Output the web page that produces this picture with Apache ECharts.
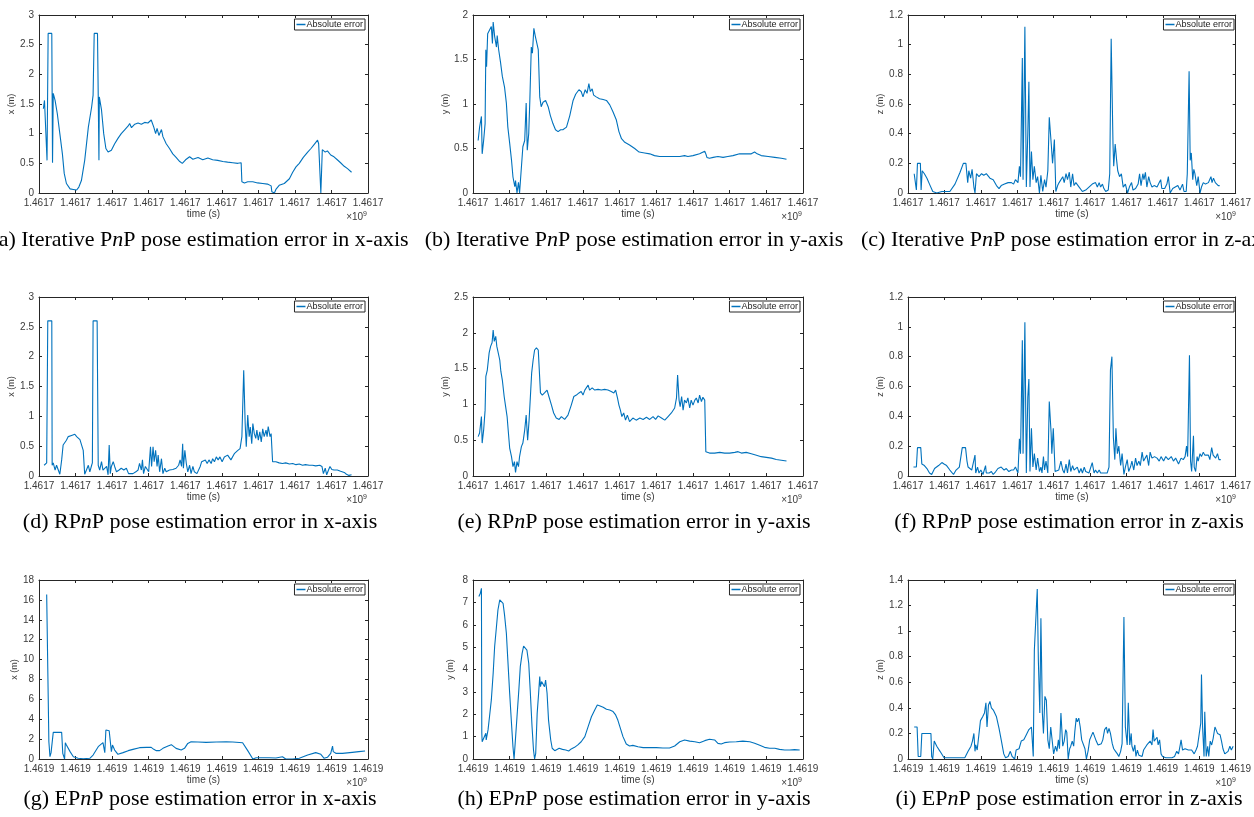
<!DOCTYPE html>
<html>
<head>
<meta charset="utf-8">
<script src="https://cdn.jsdelivr.net/npm/echarts@6/dist/echarts.min.js"></script>
<style>
  html, body { margin: 0; padding: 0; background: #fff; }
  #chart { width: 1254px; height: 817px; }
</style>
</head>
<body>
<div id="chart"></div>
<script>
// time is in x-tick units (10 ticks, 0..9), value is absolute error in metres
const itPnpX = [[0.12,1.42],[0.15,1.56],[0.18,1.59],[0.22,0.55],[0.25,2.69],[0.35,2.69],[0.37,0.51],[0.39,1.68],[0.44,1.56],[0.5,1.34],[0.57,1.0],[0.64,0.66],[0.69,0.33],[0.75,0.16],[0.85,0.07],[0.94,0.06],[1.03,0.05],[1.09,0.1],[1.16,0.21],[1.25,0.55],[1.35,1.11],[1.44,1.45],[1.48,1.65],[1.51,2.69],[1.6,2.69],[1.62,1.65],[1.64,0.55],[1.65,1.62],[1.71,1.4],[1.77,1.0],[1.83,0.75],[1.89,0.69],[1.98,0.72],[2.07,0.83],[2.16,0.92],[2.25,1.0],[2.35,1.07],[2.44,1.13],[2.48,1.17],[2.53,1.1],[2.62,1.16],[2.71,1.18],[2.8,1.16],[2.89,1.19],[2.98,1.18],[3.07,1.23],[3.14,1.11],[3.19,1.0],[3.23,1.09],[3.28,0.97],[3.35,1.07],[3.39,0.95],[3.48,0.83],[3.57,0.75],[3.66,0.66],[3.75,0.6],[3.85,0.53],[3.92,0.5],[4.01,0.56],[4.12,0.61],[4.21,0.57],[4.35,0.6],[4.48,0.56],[4.62,0.59],[4.75,0.56],[4.89,0.55],[5.03,0.53],[5.16,0.52],[5.3,0.51],[5.44,0.5],[5.53,0.51],[5.55,0.19],[5.62,0.17],[5.71,0.19],[5.85,0.19],[5.98,0.17],[6.12,0.16],[6.25,0.15],[6.35,0.12],[6.37,0.02],[6.44,0],[6.48,0.06],[6.57,0.13],[6.71,0.16],[6.85,0.24],[6.94,0.35],[7.03,0.44],[7.12,0.5],[7.23,0.6],[7.35,0.69],[7.44,0.75],[7.53,0.82],[7.62,0.89],[7.65,0.83],[7.71,0],[7.75,0.73],[7.83,0.69],[7.89,0.71],[7.98,0.64],[8.07,0.61],[8.16,0.56],[8.25,0.51],[8.35,0.45],[8.44,0.41],[8.55,0.35]]

const itPnpY = [[0.14,0.59],[0.18,0.74],[0.23,0.86],[0.25,0.44],[0.29,0.59],[0.33,0.78],[0.35,1.61],[0.37,1.42],[0.4,1.79],[0.45,1.81],[0.5,1.87],[0.53,1.68],[0.55,1.92],[0.59,1.76],[0.64,1.64],[0.66,1.77],[0.7,1.61],[0.75,1.47],[0.8,1.31],[0.86,1.19],[0.91,1.01],[0.95,0.74],[1.0,0.56],[1.05,0.37],[1.09,0.18],[1.14,0.07],[1.16,0.14],[1.2,0],[1.24,0.12],[1.27,0],[1.32,0.29],[1.36,0.52],[1.41,0.59],[1.45,1.01],[1.48,0.48],[1.52,0.67],[1.55,1.04],[1.59,1.64],[1.62,1.57],[1.66,1.85],[1.7,1.76],[1.75,1.76],[1.78,1.61],[1.82,1.08],[1.86,0.97],[1.91,1.02],[1.98,1.04],[2.05,0.97],[2.11,0.87],[2.18,0.78],[2.25,0.71],[2.32,0.69],[2.39,0.71],[2.45,0.71],[2.55,0.74],[2.64,0.87],[2.73,1.04],[2.8,1.11],[2.89,1.16],[2.95,1.14],[3.0,1.08],[3.06,1.16],[3.11,1.12],[3.16,1.23],[3.2,1.14],[3.25,1.17],[3.29,1.1],[3.36,1.08],[3.45,1.06],[3.55,1.05],[3.64,1.04],[3.73,0.99],[3.82,0.91],[3.91,0.82],[3.98,0.69],[4.05,0.61],[4.14,0.57],[4.27,0.54],[4.41,0.5],[4.53,0.46],[4.68,0.45],[4.82,0.44],[4.95,0.42],[5.09,0.41],[5.27,0.41],[5.45,0.41],[5.64,0.41],[5.77,0.42],[5.86,0.41],[6.0,0.42],[6.18,0.44],[6.32,0.47],[6.35,0.44],[6.38,0.4],[6.45,0.39],[6.55,0.4],[6.68,0.41],[6.82,0.4],[6.95,0.41],[7.09,0.42],[7.27,0.44],[7.45,0.44],[7.59,0.44],[7.68,0.46],[7.75,0.44],[7.86,0.42],[8.05,0.41],[8.23,0.4],[8.41,0.39],[8.55,0.38]]

const itPnpZ = [[0.17,0.13],[0.2,0.13],[0.23,0.02],[0.26,0.2],[0.34,0.2],[0.36,0.02],[0.39,0.15],[0.45,0.13],[0.52,0.1],[0.59,0.06],[0.68,0.01],[0.79,0],[0.93,0.01],[1.02,0.01],[1.15,0.01],[1.29,0.06],[1.43,0.14],[1.52,0.2],[1.59,0.2],[1.64,0.07],[1.67,0.15],[1.72,0.1],[1.76,0.16],[1.81,0.04],[1.84,0],[1.88,0.13],[1.95,0.11],[2.02,0.13],[2.08,0.12],[2.15,0.13],[2.25,0.1],[2.34,0.09],[2.43,0.05],[2.5,0.03],[2.56,0.05],[2.65,0.06],[2.75,0.07],[2.84,0.07],[2.9,0.06],[2.95,0.09],[3.02,0.07],[3.06,0.18],[3.09,0.11],[3.14,0.91],[3.16,0.09],[3.21,1.12],[3.25,0.04],[3.29,0.4],[3.32,0.75],[3.35,0.04],[3.39,0.28],[3.43,0.09],[3.47,0.18],[3.52,0.07],[3.56,0.11],[3.61,0],[3.65,0.12],[3.7,0.01],[3.75,0.09],[3.79,0.04],[3.84,0.15],[3.88,0.51],[3.94,0.31],[3.97,0.2],[4.02,0.36],[4.06,0.01],[4.11,0.05],[4.15,0.07],[4.2,0.06],[4.25,0.11],[4.29,0.07],[4.34,0.13],[4.38,0.09],[4.43,0.14],[4.47,0.04],[4.52,0.13],[4.56,0.05],[4.61,0.07],[4.7,0.04],[4.79,0.01],[4.88,0.02],[4.97,0.04],[5.06,0.06],[5.11,0.05],[5.15,0.07],[5.2,0.04],[5.25,0.07],[5.29,0.04],[5.34,0.06],[5.38,0.03],[5.43,0.01],[5.5,0.02],[5.54,0.13],[5.58,1.04],[5.63,0.33],[5.65,0.18],[5.69,0.33],[5.73,0.22],[5.76,0.15],[5.81,0.11],[5.86,0.13],[5.91,0.04],[5.97,0.06],[6.03,0],[6.08,0.04],[6.14,0.07],[6.18,0.02],[6.25,0.03],[6.32,0.06],[6.36,0.13],[6.4,0.05],[6.45,0.13],[6.48,0.09],[6.52,0.14],[6.56,0.04],[6.61,0.11],[6.65,0.07],[6.7,0.04],[6.76,0.05],[6.84,0.04],[6.9,0.07],[6.94,0.09],[6.97,0.03],[7.05,0.03],[7.11,0.06],[7.15,0.11],[7.2,0],[7.27,0.03],[7.34,0.04],[7.41,0.05],[7.47,0.02],[7.54,0.06],[7.58,0.01],[7.64,0.01],[7.67,0.13],[7.72,0.82],[7.75,0.22],[7.78,0.27],[7.82,0.09],[7.85,0.16],[7.88,0.13],[7.93,0.05],[7.97,0.11],[8.02,0],[8.06,0.04],[8.11,0.07],[8.17,0.06],[8.25,0.07],[8.32,0.11],[8.35,0.07],[8.39,0.1],[8.44,0.07],[8.52,0.05],[8.56,0.05]]

const rpnpX = [[0.14,0.18],[0.21,0.22],[0.24,2.6],[0.35,2.6],[0.36,0.18],[0.39,0.22],[0.44,0.1],[0.48,0.18],[0.53,0.16],[0.57,0.03],[0.62,0.27],[0.66,0.52],[0.71,0.54],[0.75,0.6],[0.8,0.66],[0.85,0.64],[0.89,0.68],[0.94,0.71],[0.98,0.7],[1.03,0.66],[1.07,0.66],[1.12,0.61],[1.16,0.6],[1.21,0.43],[1.25,0.03],[1.3,0.02],[1.35,0.18],[1.39,0.07],[1.44,0.18],[1.46,0.22],[1.48,2.6],[1.59,2.6],[1.62,0.18],[1.66,0.1],[1.71,0.24],[1.75,0.1],[1.8,0.07],[1.85,0.16],[1.89,0.02],[1.92,0.52],[1.95,0.04],[1.98,0.16],[2.03,0.24],[2.07,0.16],[2.12,0.07],[2.19,0.1],[2.25,0.13],[2.32,0.1],[2.39,0.13],[2.45,0.04],[2.5,0.02],[2.57,0.04],[2.65,0.07],[2.71,0.1],[2.75,0.21],[2.8,0.1],[2.83,0.27],[2.86,0.04],[2.91,0.16],[2.95,0.18],[3.0,0.07],[3.05,0.49],[3.08,0.16],[3.12,0.49],[3.15,0.24],[3.19,0.43],[3.23,0.16],[3.26,0.35],[3.3,0.07],[3.35,0.29],[3.39,0.04],[3.44,0.13],[3.48,0.07],[3.57,0.1],[3.66,0.11],[3.75,0.13],[3.82,0.18],[3.86,0.27],[3.9,0.16],[3.93,0.54],[3.95,0.13],[3.99,0.43],[4.03,0.21],[4.07,0.07],[4.12,0.18],[4.16,0.04],[4.21,0.16],[4.25,0.07],[4.32,0.04],[4.37,0.02],[4.41,0.16],[4.45,0.24],[4.5,0.21],[4.55,0.27],[4.6,0.21],[4.65,0.27],[4.71,0.21],[4.75,0.29],[4.8,0.24],[4.85,0.32],[4.9,0.27],[4.95,0.32],[5.01,0.24],[5.07,0.32],[5.16,0.35],[5.25,0.27],[5.35,0.38],[5.44,0.43],[5.5,0.46],[5.55,0.66],[5.6,1.77],[5.64,0.88],[5.67,0.49],[5.71,1.02],[5.75,0.66],[5.78,0.82],[5.82,0.54],[5.85,0.88],[5.89,0.71],[5.93,0.63],[5.96,0.77],[6.0,0.6],[6.04,0.74],[6.08,0.57],[6.12,0.79],[6.16,0.66],[6.21,0.77],[6.24,0.66],[6.27,0.83],[6.32,0.66],[6.35,0.71],[6.39,0.24],[6.48,0.24],[6.57,0.22],[6.66,0.21],[6.75,0.22],[6.85,0.2],[6.94,0.21],[7.03,0.19],[7.12,0.2],[7.21,0.18],[7.29,0.19],[7.39,0.18],[7.48,0.18],[7.57,0.17],[7.68,0.18],[7.74,0.16],[7.78,0.04],[7.83,0.13],[7.87,0.02],[7.92,0.1],[7.96,0.16],[8.01,0.11],[8.07,0.1],[8.16,0.1],[8.25,0.08],[8.35,0.06],[8.41,0.03],[8.48,0.01],[8.55,0.02]]

const rpnpY = [[0.14,0.55],[0.18,0.6],[0.23,0.83],[0.25,0.46],[0.29,0.64],[0.33,0.92],[0.35,1.39],[0.39,1.48],[0.44,1.72],[0.48,1.81],[0.52,1.86],[0.55,2.04],[0.58,1.88],[0.62,1.95],[0.65,1.81],[0.69,1.83],[0.73,1.62],[0.76,1.46],[0.8,1.34],[0.85,1.11],[0.89,0.97],[0.93,0.83],[0.96,0.64],[1.0,0.39],[1.05,0.27],[1.09,0.13],[1.13,0.2],[1.16,0.05],[1.2,0.2],[1.24,0.13],[1.27,0.27],[1.32,0.41],[1.36,0.46],[1.41,0.64],[1.45,0.85],[1.49,0.5],[1.53,0.78],[1.56,1.06],[1.6,1.44],[1.64,1.62],[1.68,1.76],[1.73,1.79],[1.78,1.76],[1.84,1.16],[1.89,1.13],[1.95,1.16],[2.02,1.2],[2.07,1.11],[2.14,0.99],[2.2,0.88],[2.27,0.81],[2.35,0.79],[2.41,0.83],[2.5,0.79],[2.59,0.85],[2.68,0.99],[2.75,1.11],[2.82,1.13],[2.89,1.16],[2.95,1.18],[3.0,1.13],[3.05,1.2],[3.09,1.18],[3.14,1.27],[3.18,1.2],[3.25,1.23],[3.32,1.2],[3.41,1.21],[3.5,1.2],[3.59,1.21],[3.68,1.2],[3.77,1.18],[3.84,1.16],[3.89,1.2],[3.94,1.09],[3.98,0.99],[4.02,0.92],[4.06,0.83],[4.11,0.88],[4.16,0.78],[4.21,0.85],[4.27,0.76],[4.36,0.81],[4.45,0.78],[4.55,0.81],[4.64,0.79],[4.73,0.82],[4.82,0.79],[4.91,0.83],[4.98,0.79],[5.05,0.84],[5.14,0.81],[5.23,0.78],[5.32,0.83],[5.41,0.88],[5.5,0.95],[5.55,1.09],[5.58,1.41],[5.62,1.06],[5.65,0.97],[5.69,1.11],[5.73,0.92],[5.77,1.06],[5.82,1.02],[5.86,1.09],[5.91,0.95],[5.95,1.06],[6.0,0.99],[6.05,1.06],[6.09,1.09],[6.14,1.02],[6.18,1.13],[6.23,1.04],[6.27,1.1],[6.32,1.06],[6.35,0.34],[6.38,0.34],[6.45,0.32],[6.59,0.32],[6.73,0.33],[6.86,0.32],[7.0,0.32],[7.14,0.33],[7.23,0.34],[7.32,0.32],[7.45,0.33],[7.59,0.31],[7.73,0.29],[7.86,0.27],[8.0,0.26],[8.14,0.25],[8.27,0.23],[8.41,0.22],[8.55,0.21]]

const rpnpZ = [[0.15,0.06],[0.23,0.06],[0.26,0.19],[0.35,0.19],[0.38,0.08],[0.45,0.07],[0.52,0.05],[0.59,0.02],[0.65,0.01],[0.73,0.05],[0.84,0.07],[0.93,0.09],[0.99,0.08],[1.06,0.07],[1.15,0.04],[1.25,0.01],[1.32,0.04],[1.41,0.06],[1.45,0.07],[1.49,0.19],[1.58,0.19],[1.62,0.1],[1.65,0.06],[1.7,0.05],[1.75,0.04],[1.79,0.03],[1.84,0.14],[1.86,0.02],[1.91,0.06],[1.95,0.02],[2.0,0.04],[2.06,0.01],[2.13,0.07],[2.15,0.02],[2.23,0.02],[2.29,0.03],[2.34,0.01],[2.41,0.03],[2.47,0.05],[2.56,0.06],[2.64,0.04],[2.7,0.05],[2.77,0.03],[2.84,0.04],[2.9,0.04],[2.95,0.06],[3.02,0.02],[3.06,0.25],[3.09,0.15],[3.14,0.91],[3.16,0.15],[3.21,1.03],[3.25,0.02],[3.29,0.53],[3.32,0.65],[3.35,0.03],[3.39,0.32],[3.43,0.06],[3.47,0.15],[3.52,0.04],[3.56,0.12],[3.61,0.03],[3.65,0.06],[3.68,0.02],[3.72,0.13],[3.75,0.04],[3.79,0.1],[3.84,0.02],[3.88,0.5],[3.93,0.29],[3.95,0.15],[3.99,0.32],[4.04,0.03],[4.09,0.02],[4.14,0.04],[4.2,0.1],[4.25,0.04],[4.29,0.02],[4.34,0.08],[4.38,0.02],[4.43,0.11],[4.47,0.03],[4.52,0.07],[4.56,0.04],[4.61,0.03],[4.65,0.06],[4.7,0.02],[4.75,0.05],[4.79,0.02],[4.84,0.06],[4.88,0.03],[4.93,0.04],[4.97,0.02],[5.02,0.03],[5.06,0.09],[5.11,0.02],[5.15,0.04],[5.2,0.02],[5.25,0.04],[5.29,0.02],[5.34,0.03],[5.38,0.02],[5.43,0.02],[5.47,0.02],[5.52,0.06],[5.56,0.71],[5.6,0.8],[5.64,0.26],[5.68,0.11],[5.71,0.32],[5.75,0.15],[5.79,0.2],[5.84,0.07],[5.88,0.15],[5.93,0.01],[5.97,0.06],[6.02,0.11],[6.06,0.03],[6.11,0.06],[6.15,0.1],[6.2,0.04],[6.25,0.12],[6.29,0.07],[6.34,0.1],[6.38,0.07],[6.43,0.16],[6.47,0.1],[6.52,0.11],[6.56,0.14],[6.61,0.07],[6.65,0.16],[6.7,0.12],[6.77,0.13],[6.84,0.12],[6.9,0.1],[6.95,0.13],[7.02,0.1],[7.08,0.13],[7.15,0.11],[7.23,0.13],[7.29,0.1],[7.35,0.12],[7.43,0.08],[7.5,0.12],[7.56,0.11],[7.61,0.13],[7.65,0.2],[7.68,0.13],[7.73,0.81],[7.76,0.1],[7.79,0.03],[7.84,0.27],[7.86,0.06],[7.9,0.03],[7.94,0.13],[7.97,0.1],[8.02,0.15],[8.06,0.13],[8.11,0.16],[8.15,0.14],[8.2,0.13],[8.25,0.14],[8.29,0.11],[8.34,0.19],[8.38,0.14],[8.41,0.15],[8.45,0.12],[8.5,0.15],[8.54,0.11],[8.59,0.11]]

const epnpX = [[0.21,16.55],[0.25,16.55],[0.27,1.74],[0.3,0.23],[0.33,0.64],[0.36,0.64],[0.39,2.68],[0.62,2.68],[0.65,0.57],[0.68,0.4],[0.7,0],[0.72,1.64],[0.75,1.4],[0.85,0.74],[0.94,0.23],[1.07,0.07],[1.21,0.03],[1.39,0.07],[1.48,0.4],[1.62,1.24],[1.75,1.64],[1.8,0.64],[1.83,2.91],[1.86,2.84],[1.92,2.84],[1.96,2.84],[1.98,0.74],[2.01,1.4],[2.07,0.9],[2.16,0.47],[2.3,0.64],[2.44,0.84],[2.57,0.97],[2.75,1.14],[2.94,1.17],[3.07,1.17],[3.14,0.97],[3.21,0.84],[3.3,0.84],[3.39,1.07],[3.53,1.3],[3.62,1.44],[3.66,1.3],[3.75,1.07],[3.89,0.9],[3.98,1.07],[4.07,1.57],[4.16,1.74],[4.35,1.71],[4.57,1.67],[4.85,1.71],[5.12,1.74],[5.3,1.71],[5.57,1.64],[5.71,0.84],[5.85,0],[5.94,0.13],[6.12,0.13],[6.3,0.13],[6.48,0.1],[6.66,0.23],[6.75,0],[6.94,0],[7.12,0.07],[7.35,0.4],[7.57,0.64],[7.71,0.47],[7.8,0.07],[7.89,0.17],[7.94,0.23],[7.98,0.57],[8.03,1.3],[8.05,0.74],[8.12,0.57],[8.3,0.57],[8.57,0.67],[8.75,0.74],[8.92,0.8]]

const epnpY = [[0.16,7.26],[0.2,7.41],[0.23,7.63],[0.24,1.15],[0.25,0.77],[0.3,0.77],[0.35,1.15],[0.36,0.85],[0.41,1.3],[0.45,1.89],[0.5,2.64],[0.55,3.83],[0.59,5.02],[0.64,5.92],[0.68,6.66],[0.73,7.11],[0.77,7.14],[0.82,6.96],[0.86,6.44],[0.91,5.62],[0.95,4.43],[1.0,2.94],[1.05,1.59],[1.09,0.55],[1.12,0],[1.15,0.7],[1.2,1.89],[1.25,3.08],[1.29,4.13],[1.34,4.72],[1.38,5.05],[1.43,5.1],[1.47,4.87],[1.52,4.28],[1.56,3.08],[1.61,1.45],[1.65,0.4],[1.68,0],[1.71,0.25],[1.75,2.04],[1.79,2.94],[1.82,3.68],[1.84,3.23],[1.87,3.46],[1.91,3.38],[1.95,3.23],[1.98,3.53],[2.02,2.94],[2.06,1.74],[2.12,0.85],[2.16,0.48],[2.23,0.37],[2.27,0.4],[2.35,0.48],[2.44,0.43],[2.53,0.4],[2.61,0.36],[2.68,0.45],[2.77,0.52],[2.86,0.63],[2.95,0.77],[3.05,1.0],[3.14,1.45],[3.23,1.89],[3.32,2.19],[3.39,2.41],[3.45,2.38],[3.55,2.31],[3.64,2.22],[3.73,2.19],[3.82,2.12],[3.89,1.97],[3.95,1.74],[4.02,1.37],[4.09,1.0],[4.18,0.67],[4.27,0.58],[4.36,0.61],[4.5,0.55],[4.64,0.51],[4.82,0.51],[5.0,0.51],[5.18,0.49],[5.36,0.49],[5.5,0.58],[5.64,0.77],[5.77,0.85],[5.91,0.8],[6.05,0.77],[6.18,0.73],[6.32,0.82],[6.45,0.88],[6.59,0.85],[6.68,0.7],[6.77,0.67],[6.86,0.73],[7.0,0.76],[7.18,0.77],[7.36,0.8],[7.55,0.77],[7.68,0.7],[7.82,0.61],[7.95,0.52],[8.09,0.48],[8.23,0.48],[8.36,0.43],[8.5,0.4],[8.64,0.4],[8.77,0.42],[8.91,0.4]]

const epnpZ = [[0.17,0.25],[0.25,0.25],[0.28,0.02],[0.35,0.02],[0.38,0.2],[0.63,0.2],[0.65,0.02],[0.68,0],[0.72,0.14],[0.79,0.1],[0.88,0.06],[0.99,0.01],[1.11,0.01],[1.29,0.01],[1.47,0.01],[1.56,0.01],[1.65,0.06],[1.73,0.1],[1.77,0.14],[1.81,0.2],[1.84,0.06],[1.86,0.11],[1.9,0.07],[1.95,0.06],[1.99,0.3],[2.05,0.33],[2.1,0.36],[2.14,0.44],[2.17,0.25],[2.21,0.42],[2.25,0.45],[2.29,0.4],[2.35,0.38],[2.43,0.33],[2.5,0.24],[2.56,0.15],[2.63,0.04],[2.68,0.01],[2.75,0.02],[2.81,0.06],[2.86,0.02],[2.93,0],[2.97,0.07],[3.05,0.08],[3.11,0.14],[3.18,0.15],[3.25,0.19],[3.32,0.23],[3.39,0.25],[3.44,0.02],[3.47,0.85],[3.51,0.85],[3.55,1.33],[3.58,0.77],[3.62,0.36],[3.65,1.1],[3.69,0.36],[3.72,0.2],[3.76,0.49],[3.8,0.46],[3.84,0.15],[3.88,0.08],[3.92,0.25],[3.95,0.17],[4.0,0.04],[4.05,0.1],[4.09,0.06],[4.13,0.15],[4.16,0.08],[4.2,0.36],[4.23,0.37],[4.25,0.1],[4.29,0.14],[4.33,0.23],[4.36,0.21],[4.4,0],[4.44,0.08],[4.47,0.1],[4.51,0.14],[4.55,0.1],[4.58,0.21],[4.62,0.32],[4.65,0.29],[4.69,0.32],[4.73,0.25],[4.77,0.15],[4.82,0.14],[4.86,0.08],[4.9,0],[4.95,0.07],[4.99,0.15],[5.04,0.16],[5.08,0.21],[5.13,0.2],[5.17,0.14],[5.22,0.11],[5.26,0.1],[5.31,0.12],[5.35,0.15],[5.4,0.23],[5.45,0.25],[5.48,0.2],[5.52,0.24],[5.56,0.2],[5.61,0.12],[5.65,0.08],[5.7,0.06],[5.75,0.04],[5.79,0.02],[5.84,0.06],[5.88,0.12],[5.93,1.11],[5.97,0.25],[6.02,0.11],[6.05,0.44],[6.09,0.11],[6.13,0.2],[6.15,0.1],[6.19,0.06],[6.23,0.11],[6.26,0.02],[6.3,0.07],[6.34,0.03],[6.38,0.04],[6.43,0.02],[6.47,0.07],[6.52,0.06],[6.56,0.11],[6.61,0.1],[6.65,0.14],[6.7,0.11],[6.73,0.23],[6.76,0.14],[6.8,0.15],[6.84,0.17],[6.87,0.11],[6.91,0.15],[6.95,0.04],[6.99,0.02],[7.04,0.03],[7.08,0.01],[7.15,0.01],[7.25,0.01],[7.32,0.02],[7.38,0.06],[7.43,0.04],[7.47,0.1],[7.5,0.15],[7.54,0.07],[7.61,0.08],[7.7,0.07],[7.79,0.07],[7.86,0.04],[7.91,0.07],[7.95,0.1],[8.0,0.11],[8.04,0.28],[8.06,0.66],[8.09,0.25],[8.13,0.02],[8.15,0.37],[8.19,0.02],[8.23,0.1],[8.26,0.02],[8.3,0.14],[8.34,0.11],[8.38,0.16],[8.43,0.25],[8.46,0.23],[8.5,0.2],[8.54,0.21],[8.57,0.19],[8.61,0.14],[8.65,0.08],[8.7,0.04],[8.75,0.03],[8.79,0.06],[8.84,0.1],[8.88,0.07],[8.93,0.1]]

const panelData = [itPnpX, itPnpY, itPnpZ, rpnpX, rpnpY, rpnpZ, epnpX, epnpY, epnpZ]
const yMaxes = [3, 2, 1.2, 3, 2.5, 1.2, 18, 8, 1.4]
const yIntervals = [0.5, 0.5, 0.2, 0.5, 0.5, 0.2, 2, 1, 0.2]
const yNames = ['x (m)', 'y (m)', 'z (m)']
const timeLabels = ['1.4617', '1.4617', '1.4619']
const methods = ['Iterative P', 'RP', 'EP']
const axisWords = ['x', 'y', 'z']
const letters = ['a', 'b', 'c', 'd', 'e', 'f', 'g', 'h', 'i']
const seriesName = 'Absolute error'

// layout
const colLeft = [39, 473, 908]
const colWidth = [329, 330, 329]
const rowTop = [15, 297, 580]
const rowHeight = [178, 179, 179]
const captionCenter = [200, 634, 1069]
const captionY = [240, 522, 799]

const lineColor = '#0072BD'
const axisColor = '#262626'
const labelColor = '#3a3a3a'
const sans = '"Liberation Sans", Arial, sans-serif'
const serif = '"Liberation Serif", "Times New Roman", serif'

const chart = echarts.init(document.getElementById('chart'))

const grid = []
const xAxis = []
const yAxis = []
const series = []
const legend = []
const graphic = []

const boxLine = { show: true, onZero: false, lineStyle: { color: axisColor, width: 1 } }
const inTick = { show: true, inside: true, length: 3, lineStyle: { color: axisColor, width: 1 } }

panelData.forEach((data, i) => {
  const row = Math.floor(i / 3)
  const col = i % 3
  const left = colLeft[col]
  const top = rowTop[row]
  const width = colWidth[col]
  const height = rowHeight[row]

  grid.push({ left, top, width, height })

  xAxis.push({
    type: 'value', gridIndex: i, min: 0, max: 9, interval: 1, position: 'bottom',
    axisLine: boxLine, axisTick: inTick, splitLine: { show: false },
    axisLabel: {
      color: labelColor, fontSize: 10, fontFamily: sans, margin: 5,
      formatter: () => timeLabels[row],
    },
    name: 'time (s)', nameLocation: 'middle', nameGap: 14,
    nameTextStyle: { color: labelColor, fontSize: 10, fontFamily: sans },
  })
  xAxis.push({
    type: 'value', gridIndex: i, min: 0, max: 9, interval: 1, position: 'top',
    axisLine: boxLine, axisTick: inTick, splitLine: { show: false },
    axisLabel: { show: false },
  })
  yAxis.push({
    type: 'value', gridIndex: i, min: 0, max: yMaxes[i], interval: yIntervals[i], position: 'left',
    axisLine: boxLine, axisTick: inTick, splitLine: { show: false },
    axisLabel: { color: labelColor, fontSize: 10, fontFamily: sans, margin: 5 },
    name: yNames[col], nameLocation: 'middle', nameGap: 18,
    nameTextStyle: { color: labelColor, fontSize: 9, fontFamily: sans },
  })
  yAxis.push({
    type: 'value', gridIndex: i, min: 0, max: yMaxes[i], interval: yIntervals[i], position: 'right',
    axisLine: boxLine, axisTick: inTick, splitLine: { show: false },
    axisLabel: { show: false },
  })

  series.push({
    name: seriesName, type: 'line', xAxisIndex: 2 * i, yAxisIndex: 2 * i,
    data, symbol: 'none', smooth: false,
    lineStyle: { color: lineColor, width: 1.1 }, itemStyle: { color: lineColor },
  })

  legend.push({
    data: [seriesName], selectedMode: false,
    right: 1254 - (left + width - 3), top: top + 4,
    padding: [1, 2, 1, 2], itemGap: 0, itemWidth: 9, itemHeight: 1.5, icon: 'rect',
    itemStyle: { color: lineColor },
    borderColor: axisColor, borderWidth: 1, borderRadius: 0, backgroundColor: '#fff',
    textStyle: { fontSize: 9, fontFamily: sans, color: '#222', padding: [0, 0, 0, -4] },
  })

  graphic.push({
    type: 'text', x: left + width - 1, y: top + height + 18,
    style: {
      text: '×10{s|9}', align: 'right', verticalAlign: 'top',
      fontSize: 10, fontFamily: sans, fill: labelColor, lineHeight: 12,
      rich: { s: { fontSize: 7, fontFamily: sans, fill: labelColor, lineHeight: 7, verticalAlign: 'top' } },
    },
  })

  graphic.push({
    type: 'text', x: captionCenter[col], y: captionY[row],
    style: {
      text: `(${letters[i]}) ${methods[row]}{i|n}P pose estimation error in ${axisWords[col]}-axis`,
      align: 'center', verticalAlign: 'middle',
      fontSize: 22, fontFamily: serif, fill: '#000',
      rich: { i: { fontSize: 22, fontStyle: 'italic', fontFamily: serif, fill: '#000' } },
    },
  })
})

chart.setOption({
  animation: false,
  backgroundColor: '#fff',
  grid, xAxis, yAxis, series, legend, graphic,
})
</script>
</body>
</html>
